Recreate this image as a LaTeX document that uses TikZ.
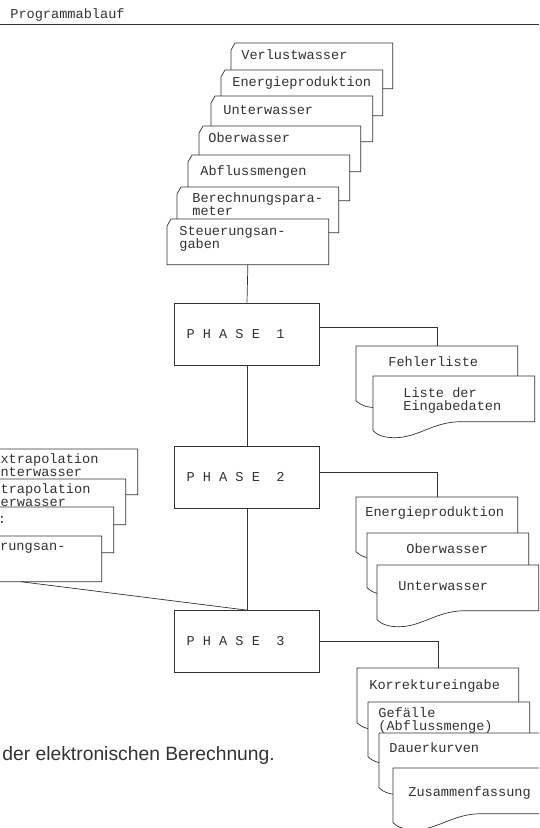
\documentclass[tikz,border=0pt]{standalone}
\usepackage{fontspec}
\setmonofont{Liberation Mono}
\newfontfamily\captionfont{Liberation Sans}
\usepackage{tikz}
\usetikzlibrary{calc,positioning}
\tikzstyle{flow}=[
  x=1pt,y=-1pt,line width=0.7pt,color=black!80,
  font=\ttfamily\fontsize{13.6}{13}\selectfont
]
\tikzstyle{phase}=[
  draw,rectangle,fill=white,minimum width=145pt,minimum height=62pt,
  text width=121pt,inner xsep=12pt,align=left
]
\tikzstyle{cardbox}=[
  inner sep=0pt,minimum width=161pt,minimum height=45pt,anchor=north west
]
\tikzstyle{sheet}=[
  draw,fill=white,line join=round
]
\tikzstyle{cardtext}=[
  inner sep=0pt,anchor=north west,align=left
]
\tikzstyle{caption}=[
  inner sep=0pt,anchor=base west,font=\captionfont\fontsize{19.3}{22}\selectfont
]
\newcommand{\blank}{\hspace{0.6em}}
% punched card: name, north west corner, text offset, text
\newcommand{\punchcard}[4]{%
  \node (#1) [cardbox] at (#2) {};
  \draw [sheet] ($(#1.north west)+(0,7)$) -- ($(#1.north west)+(4,0)$)
    -- (#1.north east) -- (#1.south east) -- (#1.south west) -- cycle;
  \node [cardtext] at ($(#1.north west)+(#3)$) {#4};
}
% printed list: name, north west corner, text offset, text
\newcommand{\listing}[4]{%
  \node (#1) [cardbox] at (#2) {};
  \draw [sheet] (#1.north west) -- (#1.north east) -- (#1.south east)
    -- ($(#1.south west)+(88,0)$)
    .. controls +(-28,0) and +(23,0) .. ($(#1.south west)+(22,16)$)
    .. controls +(-12,0) and +(4,4) .. ($(#1.south west)+(0,9)$) -- cycle;
  \node [cardtext] at ($(#1.north west)+(#3)$) {#4};
}

\begin{document}
\begin{tikzpicture}[flow]
  \useasboundingbox (0,0) rectangle (539,828);
  \clip (0,0) rectangle (539,828);

  \node (title) [cardtext,anchor=base west] at (10,18.5) {Programmablauf};
  \coordinate (rulestart) at (0,24.5);
  \coordinate (ruleend) at (539,24.5);
  \draw (rulestart) -- (ruleend);

  % input cards
  \punchcard{verlust}{231,43}{10,6}{Verlustwasser}
  \punchcard{energie}{221,70}{11,6}{Energieproduktion}
  \punchcard{unter}{211,96}{12,9}{Unterwasser}
  \punchcard{ober}{199,126}{9,6}{Oberwasser}
  \punchcard{abfluss}{188,155}{12,10}{Abflussmengen}
  \punchcard{param}{177,187}{15,5}{Berechnungspara-\\meter}
  \punchcard{steuer}{167,219}{12,7}{Steuerungsan-\\gaben}

  \node (p1) [phase] at (247,334) {P\blank H\blank A\blank S\blank E\blank\blank 1};
  \node (p2) [phase] at (247,477.5) {P\blank H\blank A\blank S\blank E\blank\blank 2};
  \node (p3) [phase] at (247,641.5) {P\blank H\blank A\blank S\blank E\blank\blank 3};

  % cards for phase 3
  \punchcard{xunter}{-24,449}{16,4}{Extrapolation\\Unterwasser}
  \punchcard{xober}{-36,479}{20,4}{Extrapolation\\Oberwasser}
  \punchcard{korrk}{-48,507}{45.5,9}{:}
  \punchcard{steuer3}{-60,536}{19,5}{Steuerungsan-\\gaben}

  % outputs
  \listing{fehler}{356,346}{32,10}{Fehlerliste}
  \listing{eingabe}{373,376}{30,11}{Liste der\\Eingabedaten}

  \listing{energieout}{356,497}{9,9}{Energieproduktion}
  \listing{oberout}{367,533}{39,10}{Oberwasser}
  \listing{unterout}{377,565}{21,16}{Unterwasser}

  \listing{korrektur}{357,668}{12,11}{Korrektureingabe}
  \listing{gefaelle}{368,702}{10,5}{Gef\"alle\\(Abflussmenge)}
  \listing{dauer}{379,733}{10,9}{Dauerkurven}
  \listing{summe}{393,768}{15,18}{Zusammenfassung}

  \draw (steuer.south) -- (p1.north);
  \draw (p1.south) -- (p2.north);
  \draw (p2.south) -- (p3.north);
  \draw (steuer3.south) -- (p3.north);
  \draw (p1.5) -| (fehler.north);
  \draw (p2.4) -| (energieout.north);
  \draw (p3.east) -| (korrektur.north);

  \node (capt) [caption] at (2,760.5) {der elektronischen Berechnung.};
\end{tikzpicture}
\end{document}
